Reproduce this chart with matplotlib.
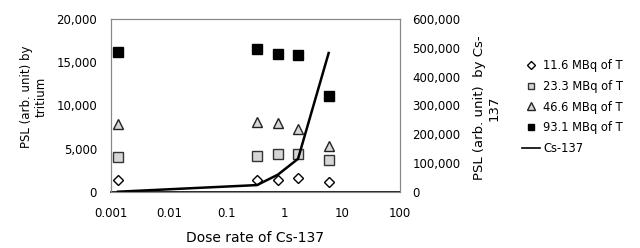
import matplotlib
matplotlib.use("Agg")
import matplotlib.pyplot as plt
from matplotlib.ticker import FixedLocator, FixedFormatter, NullLocator

plt.rcParams['font.family'] = ['DejaVu Sans']

dose = [0.00132, 0.336, 0.77, 1.72, 5.83]
t_11_6 = [1350, 1420, 1390, 1580, 1120]
t_23_3 = [4080, 4160, 4400, 4430, 3700]
t_46_6 = [7860, 8100, 8000, 7250, 5300]
t_93_1 = [16150, 16500, 15900, 15800, 11060]
cs137 = [1000, 24000, 60000, 115000, 482000]

series_labels = ['11.6 MBq of T', '23.3 MBq of T', '46.6 MBq of T', '93.1 MBq of T', 'Cs-137']
xticks = [0.001, 0.01, 0.1, 1, 10, 100]
xtick_labels = ['0.001', '0.01', '0.1', '1', '10', '100']
yticks_left = [0, 5000, 10000, 15000, 20000]
yticks_right = [0, 100000, 200000, 300000, 400000, 500000, 600000]

fig = plt.figure(figsize=(6.4, 2.48), dpi=100)
ax = fig.add_axes([111/640, 1-192/248, 289/640, 173/248])
ax2 = ax.twinx()

ax.plot(dose, t_11_6, linestyle='none', marker='D', ms=5, mfc='white', mec='black', mew=1.0)
ax.plot(dose, t_23_3, linestyle='none', marker='s', ms=6.5, mfc='#d6d6d6', mec='#333333', mew=1.0)
ax.plot(dose, t_46_6, linestyle='none', marker='^', ms=7, mfc='#d6d6d6', mec='#222222', mew=1.0)
ax.plot(dose, t_93_1, linestyle='none', marker='s', ms=7.5, mfc='black', mec='black', mew=1.0)
ax2.plot(dose, cs137, color='black', lw=1.8)

# legend proxies (smaller markers, same styles)
l1, = ax.plot([], [], linestyle='none', marker='D', ms=4, mfc='white', mec='black', mew=1.0)
l2, = ax.plot([], [], linestyle='none', marker='s', ms=5, mfc='#d6d6d6', mec='#333333', mew=1.0)
l3, = ax.plot([], [], linestyle='none', marker='^', ms=5.5, mfc='#d6d6d6', mec='#222222', mew=1.0)
l4, = ax.plot([], [], linestyle='none', marker='s', ms=5, mfc='black', mec='black', mew=1.0)
l5, = ax.plot([], [], color='black', lw=1.2)

ax.set_xscale('log')
ax.set_xlim(0.001, 100)
ax.set_ylim(0, 20000)
ax2.set_ylim(0, 600000)
ax.xaxis.set_major_locator(FixedLocator(xticks))
ax.xaxis.set_major_formatter(FixedFormatter(xtick_labels))
ax.xaxis.set_minor_locator(NullLocator())
ax.set_yticks(yticks_left)
ax.set_yticklabels([f'{v:,}' for v in yticks_left])
ax2.set_yticks(yticks_right)
ax2.set_yticklabels([f'{v:,}' for v in yticks_right])

ax.tick_params(axis='x', length=0, pad=11, labelsize=8.5)
ax.tick_params(axis='y', length=0, pad=10, labelsize=8.5)
ax2.tick_params(axis='y', length=0, pad=9, labelsize=8.5)

for a in (ax, ax2):
    for s in a.spines.values():
        s.set_color('#888888')
        s.set_linewidth(0.8)
ax.spines['bottom'].set_color('black')
ax.spines['bottom'].set_linewidth(1.2)

ax.set_xlabel('Dose rate of Cs-137', fontsize=10, labelpad=8)
fig.text(34/640, 1-97/248, 'PSL (arb. unit) by\ntritium', rotation=90, ha='center', va='center',
         fontsize=8.5, multialignment='center', linespacing=1.2)
fig.text(487/640, 1-108/248, 'PSL (arb. unit)  by Cs-\n137', rotation=90, ha='center', va='center',
         fontsize=9.5, multialignment='center', linespacing=1.1)

fig.legend([l1, l2, l3, l4, l5], series_labels, loc='center left',
           bbox_to_anchor=(522/640, 1-107/248), frameon=False, fontsize=8.3,
           handlelength=1.6, handletextpad=0.25, labelspacing=0.68, borderaxespad=0,
           borderpad=0)

fig.savefig('out.png', dpi=100)
